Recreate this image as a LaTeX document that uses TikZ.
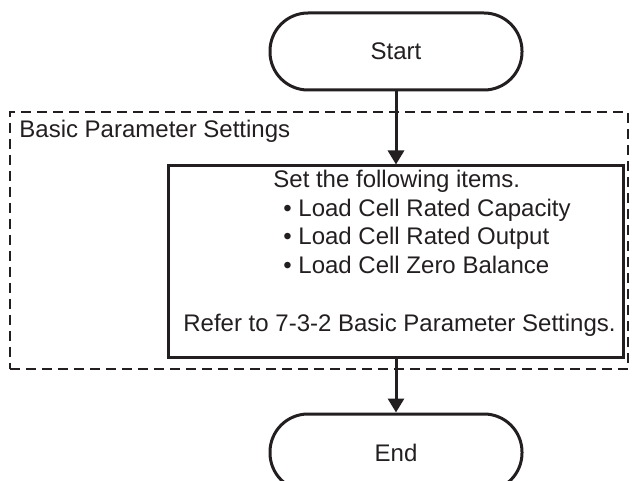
\documentclass[tikz,border=0pt]{standalone}
\usepackage{fontspec}
\setmainfont{Liberation Sans}
\usepackage{tikz}
\usetikzlibrary{arrows.meta,positioning}
\definecolor{ink}{HTML}{231F20}
\tikzset{
  term/.style={draw=ink,line width=1.5pt,rounded corners=19pt,minimum width=126pt,minimum height=38.5pt,font=\fontsize{12}{14.25}\selectfont,text=ink},
  procbox/.style={draw=ink,line width=1.5pt,minimum width=227.5pt,minimum height=96pt,inner sep=0pt},
  groupbox/.style={draw=ink,line width=1pt,dash pattern=on 5pt off 3pt,minimum width=309pt,minimum height=128.5pt,inner sep=0pt},
  txt/.style={font=\fontsize{12}{14.25}\selectfont,text=ink,inner sep=0pt,align=left},
  arr/.style={-{Triangle[length=7pt,width=8pt]},draw=ink,line width=1.5pt},
}
\begin{document}
\begin{tikzpicture}[x=0.5pt,y=-0.5pt]
  \useasboundingbox (0,0) rectangle (633,481);
  \node[term] (start) at (396,51.5) {Start};
  \node[groupbox] (group) at (319,240.5) {};
  \node[txt,anchor=base west] (grouplab) at (19,138) {Basic Parameter Settings};
  \node[procbox,below=36.5pt of start.south,anchor=north,xshift=-0.25pt] (setbox) {};
  \node[txt,anchor=north west] (items) at (273,170) {Set the following items.\\
    \hspace*{5pt}• Load Cell Rated Capacity\\
    \hspace*{5pt}• Load Cell Rated Output\\
    \hspace*{5pt}• Load Cell Zero Balance};
  \node[txt,anchor=base west] (refer) at (183,332) {Refer to 7-3-2 Basic Parameter Settings.};
  \node[term,below=26.5pt of setbox.south,anchor=north,xshift=0.25pt] (end) {End};
  \draw[arr] (start) -- (start|-setbox.north);
  \draw[arr] (end|-setbox.south) -- (end);
\end{tikzpicture}
\end{document}
